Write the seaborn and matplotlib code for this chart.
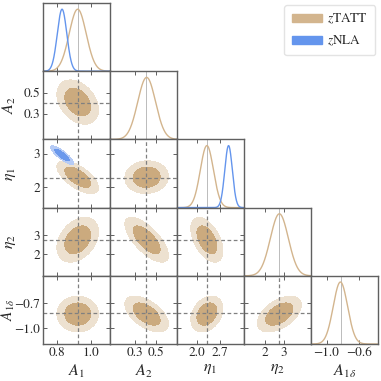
import numpy as np
import pandas as pd
import matplotlib
matplotlib.use("Agg")
import matplotlib.pyplot as plt
from matplotlib.patches import Patch
import seaborn as sns

# ---------------- data ----------------
params = ["A1", "A2", "eta1", "eta2", "A1d"]
labels = [r"$A_1$", r"$A_2$", r"$\eta_1$", r"$\eta_2$", r"$A_{1\delta}$"]
truth = [0.92, 0.40, 2.29, 2.75, -0.82]
ranges = [(0.716, 1.11), (0.06, 0.70), (1.39, 3.43), (0.87, 4.45), (-1.19, -0.37)]
xticks = [[0.8, 1.0], [0.3, 0.5], [2.0, 2.7], [2, 3], [-1.0, -0.6]]
xticklabels = [["0.8", "1.0"], ["0.3", "0.5"], ["2.0", "2.7"], ["2", "3"], ["\u22121.0", "\u22120.6"]]
yticks = [[], [0.3, 0.5], [2, 3], [2, 3], [-1.0, -0.7]]
yticklabels = [[], ["0.3", "0.5"], ["2", "3"], ["2", "3"], ["\u22121.0", "\u22120.7"]]

# zTATT posterior summary
tatt_mean = [0.92, 0.41, 2.30, 2.76, -0.83]
tatt_sigma = [0.050, 0.085, 0.20, 0.48, 0.088]
tatt_corr = {
    (0, 1): -0.35, (0, 2): -0.65, (0, 3): 0.35, (0, 4): 0.0,
    (1, 2): 0.05, (1, 3): -0.70, (1, 4): -0.55,
    (2, 3): -0.50, (2, 4): 0.30,
    (3, 4): 0.50,
}
# zNLA posterior summary (only A1, eta1)
nla_params = [0, 2]
nla_mean = [0.828, 2.96]
nla_sigma = [0.028, 0.115]
nla_corr = -0.85

legend_names = [r"$z$TATT", r"$z$NLA"]

# ---------------- style ----------------
sns.set_style("ticks")
plt.rcParams["font.family"] = ["STIXGeneral", "DejaVu Serif"]
plt.rcParams["mathtext.fontset"] = "stix"

tan_line = "#D3B58E"
tan_in = "#CBAA7E"
tan_out = "#EDE1D0"
blue_line = "#6495ED"
blue_in = "#6A98EC"
blue_out = "#B6CBF5"
spine_c = "#606060"

n = len(params)
fig = plt.figure(figsize=(3.81, 3.81), dpi=100)
gs = fig.add_gridspec(n, n, left=43 / 381, right=378 / 381, top=1 - 3 / 381,
                      bottom=1 - 344 / 381, wspace=0, hspace=0)

lev_out = np.exp(-5.991 / 2)
lev_in = np.exp(-2.296 / 2)


def gauss2d(ax, mx, my, sx, sy, rho, xr, yr, c_out, c_in):
    x = np.linspace(xr[0], xr[1], 300)
    y = np.linspace(yr[0], yr[1], 300)
    X, Y = np.meshgrid(x, y)
    u = (X - mx) / sx
    v = (Y - my) / sy
    r2 = (u * u - 2 * rho * u * v + v * v) / (1 - rho ** 2)
    Z = np.exp(-0.5 * r2)
    ax.contourf(X, Y, Z, levels=[lev_out, lev_in, 1.01], colors=[c_out, c_in])


for i in range(n):
    for j in range(i + 1):
        ax = fig.add_subplot(gs[i, j])
        for s in ax.spines.values():
            s.set_color(spine_c)
            s.set_linewidth(1.0)
        ax.tick_params(direction="in", length=3, width=0.7, color=spine_c,
                       top=True, right=True, labelsize=9.5, pad=2)
        ax.set_xlim(*ranges[j])
        if i == j:
            xg = np.linspace(ranges[j][0], ranges[j][1], 400)
            yg = np.exp(-0.5 * ((xg - tatt_mean[j]) / tatt_sigma[j]) ** 2)
            sns.lineplot(x=xg, y=yg, ax=ax, color=tan_line, lw=1.0)
            if j in nla_params:
                k = nla_params.index(j)
                yb = np.exp(-0.5 * ((xg - nla_mean[k]) / nla_sigma[k]) ** 2)
                sns.lineplot(x=xg, y=yb, ax=ax, color=blue_line, lw=1.0)
            ax.axvline(truth[j], color="#BBBBBB", lw=0.7, zorder=0)
            ax.set_ylim(0, 1.1)
            ax.set_yticks([])
            ax.tick_params(axis="y", left=False, right=False)
        else:
            ax.set_ylim(*ranges[i])
            gauss2d(ax, tatt_mean[j], tatt_mean[i], tatt_sigma[j], tatt_sigma[i],
                    tatt_corr[(j, i)], ranges[j], ranges[i], tan_out, tan_in)
            if j in nla_params and i in nla_params:
                gauss2d(ax, nla_mean[0], nla_mean[1], nla_sigma[0], nla_sigma[1],
                        nla_corr, ranges[j], ranges[i], blue_out, blue_in)
            ax.axvline(truth[j], color="#808080", lw=0.9, ls=(0, (3, 2)))
            ax.axhline(truth[i], color="#808080", lw=0.9, ls=(0, (3, 2)))
            ax.set_yticks(yticks[i])
            if j == 0:
                ax.set_yticklabels(yticklabels[i])
                last = (i == n - 1)
                ax.set_ylabel(labels[i], fontsize=11 if last else 11.5)
                ax.yaxis.set_label_coords(-0.395 if last else -0.37, 0.5)
            else:
                ax.set_yticklabels([])
        ax.set_xticks(xticks[j])
        if i == n - 1:
            ax.set_xticklabels(xticklabels[j])
            ax.set_xlabel(labels[j], fontsize=11.5)
            ax.xaxis.set_label_coords(0.5, -0.27)
        else:
            ax.set_xticklabels([])

handles = [Patch(facecolor=tan_line, edgecolor=tan_line),
           Patch(facecolor=blue_line, edgecolor=blue_line)]
fig.legend(handles, legend_names, loc="upper right", bbox_to_anchor=(0.992, 0.994),
           fontsize=9.5, frameon=True, fancybox=True, edgecolor="#DDDDDD",
           handlelength=2.3, handleheight=0.6, handletextpad=0.4,
           borderpad=0.55, labelspacing=0.55, borderaxespad=0.2)

fig.savefig("out.png", dpi=100)
